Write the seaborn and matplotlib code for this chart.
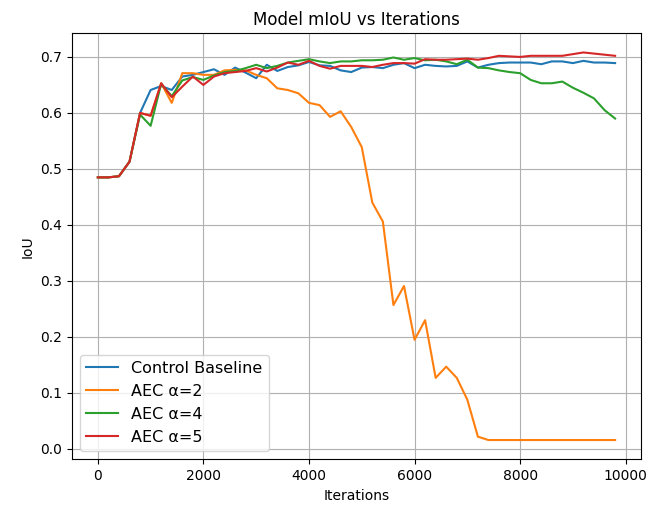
import numpy as np
import pandas as pd
import matplotlib
matplotlib.use("Agg")
import matplotlib.pyplot as plt
import seaborn as sns

iterations = list(range(0, 10000, 200))

control_baseline = [
    0.485, 0.485, 0.487, 0.513, 0.600, 0.641, 0.648, 0.641, 0.665, 0.668,
    0.673, 0.678, 0.668, 0.681, 0.672, 0.662, 0.686, 0.675, 0.682, 0.685,
    0.691, 0.685, 0.684, 0.676, 0.673, 0.681, 0.682, 0.680, 0.686, 0.689,
    0.680, 0.686, 0.684, 0.683, 0.684, 0.692, 0.681, 0.686, 0.689, 0.690,
    0.690, 0.690, 0.687, 0.692, 0.692, 0.689, 0.693, 0.690, 0.690, 0.689,
]
aec_alpha2 = [
    0.485, 0.485, 0.487, 0.513, 0.600, 0.595, 0.653, 0.618, 0.671, 0.671,
    0.668, 0.668, 0.676, 0.677, 0.676, 0.668, 0.662, 0.644, 0.641, 0.635,
    0.618, 0.614, 0.593, 0.603, 0.575, 0.539, 0.440, 0.406, 0.257, 0.291,
    0.195, 0.230, 0.127, 0.147, 0.127, 0.088, 0.022, 0.016, 0.016, 0.016,
    0.016, 0.016, 0.016, 0.016, 0.016, 0.016, 0.016, 0.016, 0.016, 0.016,
]
aec_alpha4 = [
    0.485, 0.485, 0.487, 0.513, 0.597, 0.577, 0.652, 0.630, 0.658, 0.664,
    0.659, 0.667, 0.673, 0.675, 0.680, 0.686, 0.680, 0.684, 0.690, 0.693,
    0.696, 0.692, 0.689, 0.692, 0.692, 0.694, 0.694, 0.695, 0.699, 0.695,
    0.698, 0.694, 0.695, 0.692, 0.687, 0.695, 0.681, 0.680, 0.676, 0.673,
    0.671, 0.659, 0.653, 0.653, 0.656, 0.645, 0.636, 0.626, 0.605, 0.590,
]
aec_alpha5 = [
    0.485, 0.485, 0.487, 0.513, 0.600, 0.595, 0.653, 0.628, 0.647, 0.665,
    0.650, 0.665, 0.671, 0.673, 0.675, 0.680, 0.674, 0.681, 0.690, 0.686,
    0.693, 0.684, 0.679, 0.684, 0.684, 0.684, 0.682, 0.686, 0.689, 0.689,
    0.688, 0.696, 0.695, 0.695, 0.696, 0.697, 0.695, 0.698, 0.702, 0.701,
    0.700, 0.702, 0.702, 0.702, 0.702, 0.705, 0.708, 0.706, 0.704, 0.702,
]

series_names = ["Control Baseline", "AEC α=2", "AEC α=4", "AEC α=5"]
series_values = [control_baseline, aec_alpha2, aec_alpha4, aec_alpha5]

frames = [
    pd.DataFrame({"Iterations": iterations, "IoU": vals, "Run": name})
    for name, vals in zip(series_names, series_values)
]
df = pd.concat(frames, ignore_index=True)

fig = plt.figure(figsize=(6.52, 5.12), dpi=100)
ax = fig.add_axes([0.1104, 0.1027, 0.8727, 0.8327])

sns.lineplot(
    data=df, x="Iterations", y="IoU", hue="Run",
    hue_order=series_names,
    palette=sns.color_palette("tab10", 4),
    linewidth=1.5, ax=ax, estimator=None, sort=False,
)

ax.set_title("Model mIoU vs Iterations")
ax.set_xlabel("Iterations")
ax.set_ylabel("IoU")
ax.grid(True)
sns.move_legend(ax, "lower left", title=None, fontsize=11.5)

fig.savefig("out.png", dpi=100)
